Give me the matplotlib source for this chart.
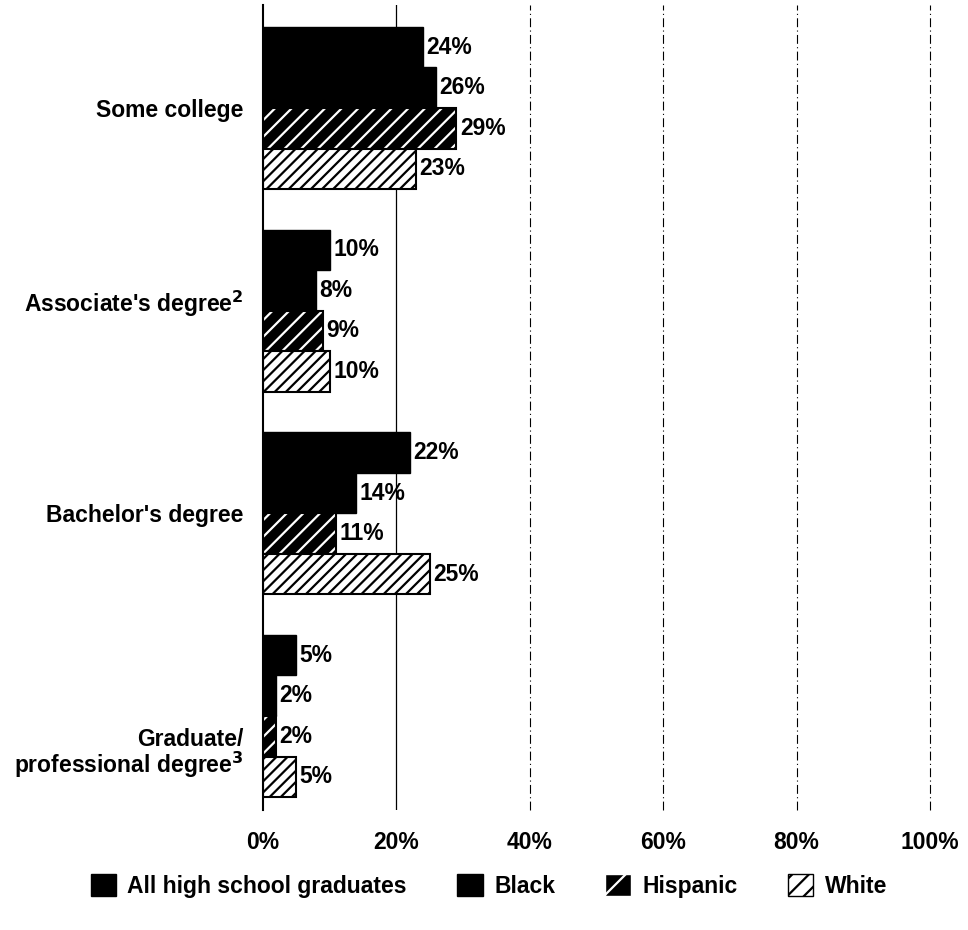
import matplotlib.pyplot as plt
import matplotlib.transforms as mtrans
import numpy as np
from matplotlib.patches import Patch

plt.rcParams['font.family'] = ['Liberation Sans', 'DejaVu Sans']
plt.rcParams['hatch.linewidth'] = 1.6
plt.rcParams['mathtext.default'] = 'bf'

categories = ['Some college', 'Associate\'s degree$^2$', 'Bachelor\'s degree',
              'Graduate/\nprofessional degree$^3$']
series = ['All high school graduates', 'Black', 'Hispanic', 'White']
all_hs = [24, 10, 22, 5]
black = [26, 8, 14, 2]
hispanic = [29, 9, 11, 2]
white = [23, 10, 25, 5]
values = [all_hs, black, hispanic, white]
ticks = [0, 20, 40, 60, 80, 100]

fig = plt.figure(figsize=(9.68, 9.3), dpi=100)
ax = fig.add_axes([0.2717, 0.129, 0.689, 0.8656])

y = np.arange(len(categories))
h = 0.2
for i, vals in enumerate(values):
    pos = y - 0.3 + i * h
    if i == 2:
        ax.barh(pos, vals, height=h, color='black', edgecolor='white', hatch='//', lw=0)
        ax.barh(pos, vals, height=h, fill=False, edgecolor='black', lw=1.5)
    elif i == 3:
        ax.barh(pos, vals, height=h, color='white', edgecolor='black', hatch='///', lw=1.5)
    else:
        ax.barh(pos, vals, height=h, color='black', edgecolor='black', lw=1)
    for p, v in zip(pos, vals):
        ax.text(v + 0.5, p, f'{v}%', va='center', ha='left', fontsize=16.5, fontweight='bold')

for t in ticks[1:]:
    if t == 20:
        ax.axvline(t, color='black', lw=0.9, zorder=0)
    else:
        ax.axvline(t, color='black', lw=0.8, ls=(0, (8, 3, 1, 3)), zorder=0, clip_on=False)

ax.set_xlim(0, 100)
ax.set_ylim(3.464, -0.508)
ax.set_xticks(ticks)
ax.set_xticklabels([f'{t}%' for t in ticks], fontsize=16.5, fontweight='bold')
ax.tick_params(axis='x', length=0, pad=15)
ax.set_yticks(y)
ax.set_yticklabels(categories, fontsize=16.5, fontweight='bold', ha='right', linespacing=0.95)
ax.tick_params(axis='y', length=0, pad=14)
lbls = ax.get_yticklabels()
lbls[1].set_transform(lbls[1].get_transform() + mtrans.ScaledTranslation(0, 0.1, fig.dpi_scale_trans))
lbls[3].set_transform(lbls[3].get_transform() + mtrans.ScaledTranslation(0, -0.35, fig.dpi_scale_trans))
for s in ['top', 'right', 'bottom']:
    ax.spines[s].set_visible(False)
ax.spines['left'].set_linewidth(1.5)

handles = [Patch(facecolor='black', edgecolor='black'),
           Patch(facecolor='black', edgecolor='black'),
           Patch(facecolor='black', edgecolor='white', hatch='/'),
           Patch(facecolor='white', edgecolor='black', hatch='//')]
leg = fig.legend(handles, series, loc='center', bbox_to_anchor=(0.505, 0.047), ncol=4,
                 frameon=False, prop={'size': 16.5, 'weight': 'bold'},
                 handlelength=1.1, handleheight=1.1, columnspacing=2.2, handletextpad=0.5)

fig.savefig('out.png', dpi=100)
